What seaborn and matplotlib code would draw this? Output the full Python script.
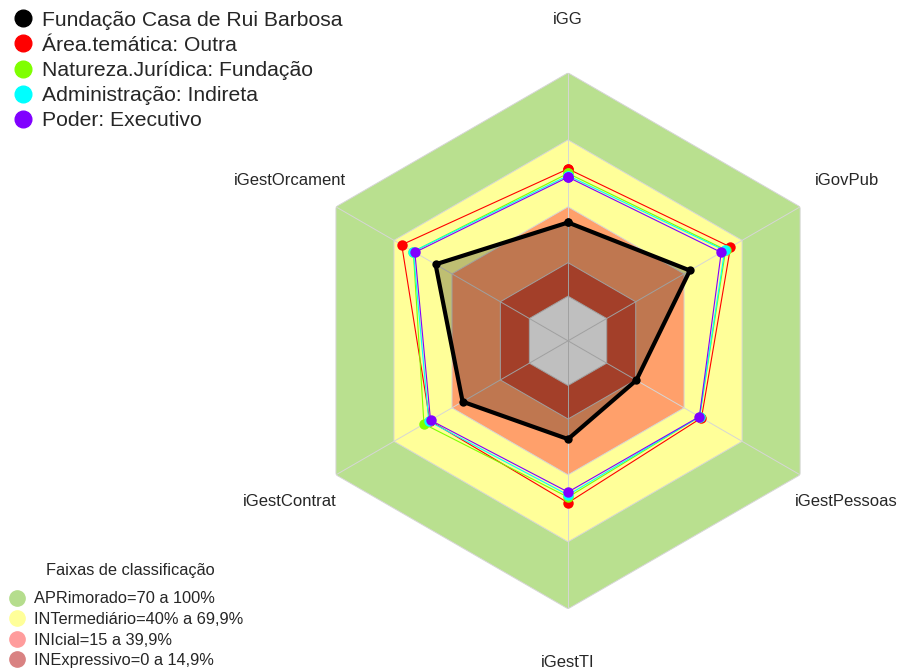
import numpy as np
import pandas as pd
import matplotlib
matplotlib.use("Agg")
import matplotlib.pyplot as plt
from matplotlib.lines import Line2D
import seaborn as sns

sns.set_theme(style="white")
plt.rcParams['font.family'] = ['Liberation Sans', 'DejaVu Sans']

# eixos do radar (sentido horario a partir do topo)
indicadores = ["iGG", "iGovPub", "iGestPessoas", "iGestTI", "iGestContrat", "iGestOrcament"]

series = ["Fundação Casa de Rui Barbosa", "Área.temática: Outra",
          "Natureza.Jurídica: Fundação", "Administração: Indireta", "Poder: Executivo"]
cores = ["black", "#FF0000", "#7FFF00", "#00FFFF", "#8000FF"]

fcrb = [33, 43, 15.3, 24, 34.5, 48.5]
area_outra = [57, 64, 49, 52.5, 51.5, 66]
nat_fundacao = [55, 61.5, 48, 50, 54.5, 60]
adm_indireta = [54, 61, 48, 49, 52, 60]
poder_exec = [53.3, 59.2, 47.9, 47.7, 51.1, 59.2]
valores = [fcrb, area_outra, nat_fundacao, adm_indireta, poder_exec]

# faixas de classificacao
faixas = ["APRimorado=70 a 100%", "INTermediário=40% a 69,9%",
          "INIcial=15 a 39,9%", "INExpressivo=0 a 14,9%"]
cores_legenda = ["#B5DD8D", "#FFFF99", "#FF9C9C", "#D98282"]
limites = [100, 70, 40, 15, 0]
cores_faixas = ["#B9E08F", "#FFFF99", "#FFA06B", "#DA5538", "#FFFFFF"]

n = len(indicadores)
angulos = np.linspace(0, 2 * np.pi, n, endpoint=False)
ang_fech = np.append(angulos, angulos[0])

linhas = []
for nome, vals in zip(series, valores):
    for a, v in zip(ang_fech, vals + [vals[0]]):
        linhas.append({"serie": nome, "angulo": a, "valor": v})
df = pd.DataFrame(linhas)

fig = plt.figure(figsize=(9.01, 6.72), dpi=100)
fig.patch.set_facecolor("white")
ax = fig.add_axes([0.333, 0.094, 0.5949, 0.7976], projection="polar")
ax.set_theta_zero_location("N")
ax.set_theta_direction(-1)
ax.set_ylim(-20, 100)
ax.grid(False)
ax.spines["polar"].set_visible(False)
ax.set_xticks([])
ax.set_yticks([])
ax.patch.set_alpha(0)

# hexagonos de fundo
for lim, cor in zip(limites, cores_faixas):
    ax.fill(ang_fech, [lim] * (n + 1), facecolor=cor, edgecolor="#D6D6D6", lw=0.7, zorder=1)
for a in angulos:
    ax.plot([a, a], [-20, 100], color="#D6D6D6", lw=0.7, zorder=2)

# area da instituicao
ax.fill(ang_fech, fcrb + [fcrb[0]], color="black", alpha=0.25, lw=0, zorder=3)

df_outros = df[df.serie != series[0]]
sns.lineplot(data=df_outros, x="angulo", y="valor", hue="serie", hue_order=series[1:],
             palette=dict(zip(series[1:], cores[1:])), sort=False, estimator=None,
             marker="o", markersize=7.5, markeredgewidth=0, linewidth=0.8,
             legend=False, ax=ax, zorder=4)
sns.lineplot(data=df[df.serie == series[0]], x="angulo", y="valor", color="black",
             sort=False, estimator=None, marker="o", markersize=6, markeredgewidth=0,
             linewidth=3, legend=False, ax=ax, zorder=5)
ax.set_xlabel("")
ax.set_ylabel("")
ax.set_ylim(-20, 100)

for a, rot in zip(angulos, indicadores):
    ax.text(a, 124, rot, ha="center", va="center", fontsize=12, clip_on=False)

h1 = [Line2D([], [], marker="o", ls="", color=c, markersize=12) for c in cores]
fig.legend(h1, series, loc="upper left", bbox_to_anchor=(0.0, 1.003), frameon=False,
           fontsize=15.2, handlelength=1.0, handletextpad=0.4, labelspacing=0.29,
           borderaxespad=0.2)

h2 = [Line2D([], [], marker="o", ls="", color=c, markersize=11) for c in cores_legenda]
fig.legend(h2, faixas, loc="lower left", bbox_to_anchor=(0.0, -0.009), frameon=False,
           fontsize=11.8, handlelength=0.9, handletextpad=0.55, labelspacing=0.345,
           borderaxespad=0.2)
fig.text(130 / 901, 1 - 570 / 672, "Faixas de classificação", ha="center", va="center",
         fontsize=11.8)

fig.savefig("out.png", dpi=100)
